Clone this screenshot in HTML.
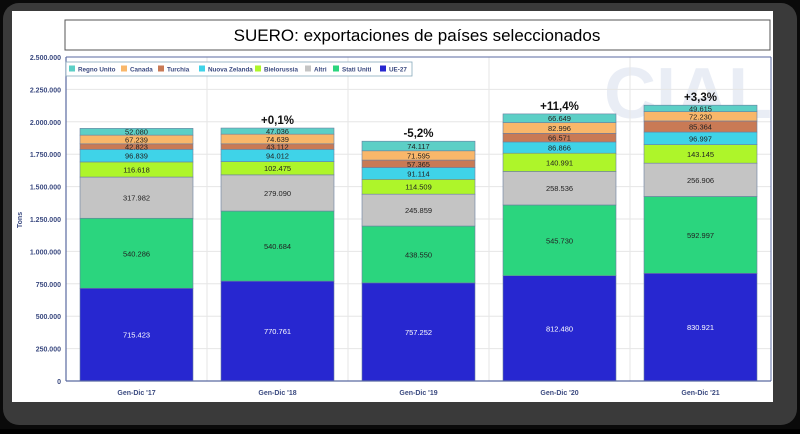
<!DOCTYPE html>
<html><head><meta charset="utf-8"><style>
html,body{margin:0;padding:0;background:#000;}
body{width:800px;height:429px;overflow:hidden;position:relative;font-family:"Liberation Sans",sans-serif;}
</style></head><body>
<svg id="s" width="800" height="429" xmlns="http://www.w3.org/2000/svg" font-family="Liberation Sans, sans-serif">
<rect x="0" y="0" width="800" height="429" fill="#0a0a0a"/>
<rect x="3" y="3" width="794" height="422" rx="16" fill="#3a3a3a"/>
<rect x="12" y="11" width="761" height="391" fill="#ffffff"/>
<rect x="65" y="20" width="705" height="30" fill="#fff" stroke="#555" stroke-width="1"/>
<text x="417" y="41" font-size="17" text-anchor="middle" fill="#000">SUERO: exportaciones de países seleccionados</text>
<text x="688" y="118" font-size="72" font-weight="bold" fill="#e9edf5" text-anchor="middle">CIAL</text>
<g id="g"></g>
</svg>
<script>
var g=document.getElementById('g'),NS='http://www.w3.org/2000/svg';
function el(t,a,txt){var e=document.createElementNS(NS,t);for(var k in a)e.setAttribute(k,a[k]);if(txt!=null)e.textContent=txt;g.appendChild(e);return e;}
function fmt(v){return String(v).replace(/\B(?=(\d{3})+(?!\d))/g,'.');}
var y0=381,yTop=57,sc=(y0-yTop)/2500000;
for(var v=0;v<=2500000;v+=250000){var y=y0-v*sc;el('line',{x1:66,x2:771,y1:y,y2:y,stroke:'#e6e6e6','stroke-width':1});
el('text',{x:61,y:y+3,'font-size':7,'font-weight':'bold',fill:'#3b4a80','text-anchor':'end'},fmt(v));}
for(var i=0;i<=5;i++){var x=66+i*141;el('line',{x1:x,x2:x,y1:yTop,y2:y0,stroke:'#e6e6e6'});}
var cols=['#2727d0','#2bd57e','#c4c4c4','#aef52a','#3fd3e8','#c97a55','#f9b76a','#5ccfc6'];
var data=[[715423,540286,317982,116618,96839,42823,67239,52080],
[770761,540684,279090,102475,94012,43112,74639,47036],
[757252,438550,245859,114509,91114,57365,71595,74117],
[812480,545730,258536,140991,86866,66571,82996,66649],
[830921,592997,256906,143145,96997,85364,72230,49615]];
var cats=["Gen-Dic '17","Gen-Dic '18","Gen-Dic '19","Gen-Dic '20","Gen-Dic '21"];
var pct=['','+0,1%','-5,2%','+11,4%','+3,3%'];
data.forEach(function(d,i){var x=80+i*141,w=113,acc=0;
d.forEach(function(v,j){var yb=y0-acc*sc;acc+=v;var yt=y0-acc*sc;
el('rect',{x:x,y:yt,width:w,height:yb-yt,fill:cols[j],stroke:'#6a7fa0','stroke-width':0.6});
el('text',{x:x+w/2,y:(yt+yb)/2+3,'font-size':7.5,fill:j==0?'#fff':'#222','text-anchor':'middle'},fmt(v));});
var yt=y0-acc*sc;
if(pct[i])el('text',{x:x+w/2,y:yt-4,'font-size':11.5,'font-weight':'bold',fill:'#111','text-anchor':'middle'},pct[i]);
el('text',{x:x+w/2,y:395,'font-size':7,'font-weight':'bold',fill:'#3b4a80','text-anchor':'middle'},cats[i]);
});
el('line',{x1:66,x2:66,y1:yTop,y2:y0,stroke:'#5a6aa0','stroke-width':1.2});
el('line',{x1:66,x2:771,y1:y0,y2:y0,stroke:'#5a6aa0','stroke-width':1.2});
el('line',{x1:771,x2:771,y1:yTop,y2:y0,stroke:'#5a6aa0','stroke-width':1});
el('line',{x1:66,x2:771,y1:yTop,y2:yTop,stroke:'#5a6aa0','stroke-width':1});
el('rect',{x:66,y:62,width:346,height:14,fill:'#fff',stroke:'#8ab','stroke-width':0.8});
var names=['Regno Unito','Canada','Turchia','Nuova Zelanda','Bielorussia','Altri','Stati Uniti','UE-27'];
var lc=['#5ccfc6','#f9b76a','#c97a55','#3fd3e8','#aef52a','#c4c4c4','#2bd57e','#2727d0'];
var lx=[69,121,158,199,255,305,333,380];
names.forEach(function(n,k){el('rect',{x:lx[k],y:65.5,width:6,height:6,fill:lc[k]});
el('text',{x:lx[k]+9,y:71.5,'font-size':6.3,'font-weight':'bold',fill:'#3b4a80'},n);});
el('text',{x:22,y:220,'font-size':7,'font-weight':'bold',fill:'#3b4a80','text-anchor':'middle',transform:'rotate(-90 22 220)'},'Tons');
</script>
</body></html>
